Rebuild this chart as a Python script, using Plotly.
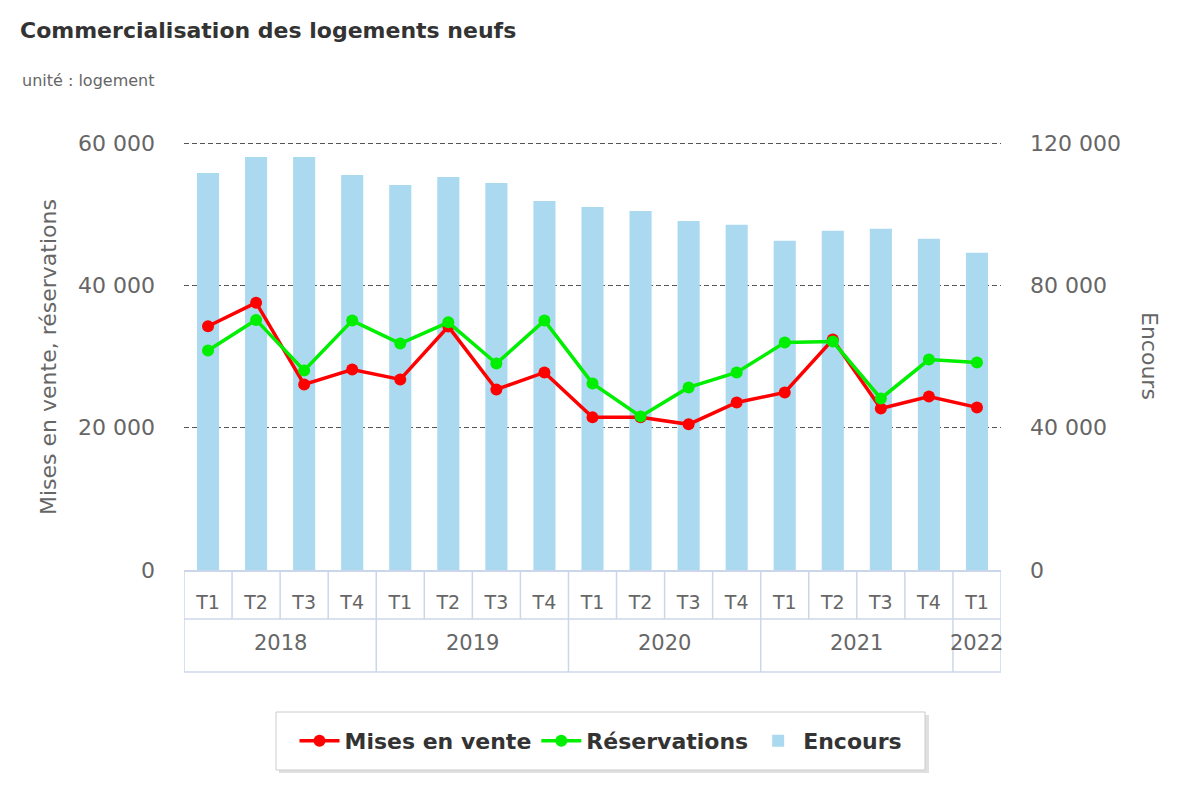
import plotly.graph_objects as go

years = ["2018"] * 4 + ["2019"] * 4 + ["2020"] * 4 + ["2021"] * 4 + ["2022"]
quarters = ["T1", "T2", "T3", "T4"] * 4 + ["T1"]

mises_en_vente = [34250, 37570, 26080, 28180, 26780, 34210, 25370, 27760, 21450,
                  21450, 20470, 23550, 24950, 32380, 22710, 24390, 22850]
reservations = [30840, 35150, 28040, 35050, 31820, 34810, 29020, 35050, 26220,
                21590, 25660, 27760, 31960, 32100, 24110, 29580, 29160]
encours = [111590, 116080, 116080, 111030, 108230, 110470, 108790, 103740, 102060,
           100940, 98130, 97010, 92520, 95330, 95890, 93090, 89160]

idx = list(range(len(quarters)))
FONT = "DejaVu Sans"
GRAY = "#666666"
TABLE = "#ccd6eb"

# page body has an 8px margin: figure is placed at (8, 8)
W, H = 1184, 784
OFF = 8
PL, PR, PT, PB = 184, 1001, 142, 570  # plot area in page pixels
PW, PH = PR - PL, PB - PT


def px(xp):
    return (xp - PL) / PW


def py(yp):
    return (PB - yp) / PH


fig = go.Figure()
fig.add_trace(go.Scatter(
    x=idx, y=mises_en_vente, name="Mises en vente", yaxis="y2",
    mode="lines+markers", line=dict(color="#ff0000", width=3.5),
    marker=dict(color="#ff0000", size=12)))
fig.add_trace(go.Scatter(
    x=idx, y=reservations, name="Réservations", yaxis="y2",
    mode="lines+markers", line=dict(color="#00ee00", width=3.5),
    marker=dict(color="#00ee00", size=12)))
fig.add_trace(go.Bar(
    x=idx, y=encours, name="Encours", yaxis="y",
    marker=dict(color="#abdaf0", line=dict(width=0))))

n = len(quarters)
y_mid = py(619)
y_bot = py(672)
shapes = []
# legend box with shadow
shapes.append(dict(type="rect", xref="paper", yref="paper",
                   x0=px(279), x1=px(929), y0=py(773), y1=py(715),
                   line=dict(width=0), fillcolor="rgba(0,0,0,0.12)", layer="below"))
shapes.append(dict(type="rect", xref="paper", yref="paper",
                   x0=px(276), x1=px(925), y0=py(770), y1=py(712),
                   line=dict(color="#cccccc", width=1), fillcolor="white", layer="below"))
# table under the x axis
for k in range(n + 1):
    xb = k - 0.5
    full = (k == 0 or k == n or years[k] != years[k - 1])
    shapes.append(dict(type="line", xref="x", yref="paper", x0=xb, x1=xb,
                       y0=0, y1=y_bot if full else y_mid,
                       line=dict(color=TABLE, width=1.5)))
for yy in (y_mid, y_bot):
    shapes.append(dict(type="line", xref="x", yref="paper", x0=-0.5, x1=n - 0.5,
                       y0=yy, y1=yy, line=dict(color=TABLE, width=1.5)))

annotations = []
seen = []
for y in years:
    if y not in seen:
        seen.append(y)
for y in seen:
    pos = [i for i, v in enumerate(years) if v == y]
    annotations.append(dict(text=y, x=sum(pos) / len(pos), xref="x",
                            y=py(643), yref="paper", showarrow=False,
                            xanchor="center", yanchor="middle",
                            font=dict(family=FONT, size=21, color=GRAY)))
annotations.append(dict(text="unité : logement", xref="paper", yref="paper",
                        x=px(20), y=py(80), xanchor="left",
                        yanchor="middle", showarrow=False,
                        font=dict(family=FONT, size=16, color=GRAY)))
annotations.append(dict(text="Mises en vente, réservations", xref="paper", yref="paper",
                        x=px(48), y=py(357), textangle=-90, showarrow=False,
                        xanchor="center", yanchor="middle",
                        font=dict(family=FONT, size=22, color=GRAY)))
annotations.append(dict(text="Encours", xref="paper", yref="paper",
                        x=px(1150), y=py(356), textangle=90, showarrow=False,
                        xanchor="center", yanchor="middle",
                        font=dict(family=FONT, size=22, color=GRAY)))

fig.update_layout(
    width=W, height=H,
    margin=dict(l=PL - OFF, r=W - (PR - OFF), t=PT - OFF, b=H - (PB - OFF)),
    paper_bgcolor="white", plot_bgcolor="white",
    separators=", ",
    bargap=0.54,
    title=dict(text="<b>Commercialisation des logements neufs</b>",
               xref="container", yref="container", x=(20 - OFF) / W,
               y=1 - (30 - OFF) / H, xanchor="left", yanchor="middle",
               font=dict(family=FONT, size=22, color="#333333")),
    xaxis=dict(range=[-0.5, n - 0.5], tickvals=idx, ticktext=quarters,
               showgrid=False, zeroline=False, showline=True, linecolor=TABLE,
               linewidth=1.5, ticks="", ticklabelstandoff=14,
               tickfont=dict(family=FONT, size=19, color=GRAY)),
    yaxis=dict(side="right", range=[0, 120300], tickvals=[0, 40000, 80000, 120000],
               tickformat=",.0f",
               showgrid=True, gridcolor="#555555", griddash="5px,3px", gridwidth=1,
               zeroline=False, ticks="", ticklabelstandoff=28,
               tickfont=dict(family=FONT, size=22, color=GRAY)),
    yaxis2=dict(side="left", overlaying="y", range=[0, 60150],
                tickvals=[0, 20000, 40000, 60000],
                tickformat=",.0f", showgrid=False, zeroline=False, ticks="",
                ticklabelstandoff=28,
                tickfont=dict(family=FONT, size=22, color=GRAY)),
    legend=dict(orientation="h", x=px(601), y=py(741),
                xanchor="center", yanchor="middle", bgcolor="rgba(0,0,0,0)",
                borderwidth=0,
                font=dict(family=FONT, size=22, color="#333333", weight="bold"),
                itemwidth=40),
    shapes=shapes, annotations=annotations,
)

fig.write_html("out.html")
